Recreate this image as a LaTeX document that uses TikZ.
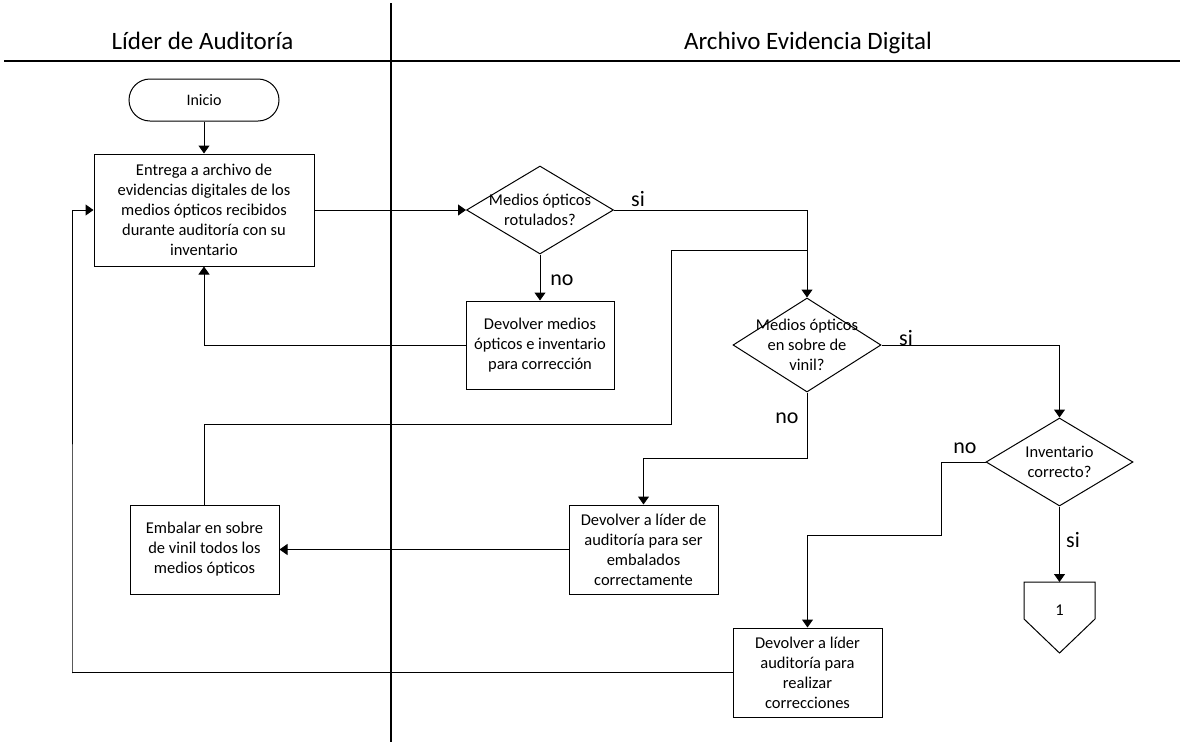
\documentclass[tikz,border=0pt]{standalone}
\usepackage{fontspec}
\setmainfont{Carlito}
\usetikzlibrary{shapes.geometric,arrows.meta}

\begin{document}
\begin{tikzpicture}[x=1pt,y=-1pt,
  lane/.style={line width=1.2pt},
  flow/.style={line width=1pt},
  arr/.style={flow,-{Triangle[width=11pt,length=8pt]}},
  proc/.style={draw,line width=1pt,rectangle,inner sep=0pt,align=center,
    font=\fontsize{16.5}{20}\selectfont},
  dec/.style={draw,line width=1pt,shape=diamond,inner sep=0pt},
  dtext/.style={align=center,inner sep=0pt,font=\fontsize{16.5}{20}\selectfont},
  term/.style={draw,line width=1pt,rectangle,rounded corners=21pt,inner sep=0pt,
    minimum width=150pt,minimum height=42pt,font=\fontsize{16}{19}\selectfont},
  head/.style={anchor=base,inner sep=0pt,font=\fontsize{25}{30}\selectfont},
  lbl/.style={inner sep=0pt,font=\fontsize{22}{26}\selectfont}
]
\useasboundingbox (0,0) rectangle (1180,742);

% swimlane frame
\coordinate (laneTop) at (391,3);
\coordinate (laneBot) at (391,742);
\coordinate (headL) at (4,61);
\coordinate (headR) at (1180,61);
\draw[lane] (laneTop) -- (laneBot);
\draw[lane] (headL) -- (headR);
\node[head] (h1) at (202.5,49) {Líder de Auditoría};
\node[head] (h2) at (808,49) {Archivo Evidencia Digital};

% process steps
\node[term] (start) at (204,100) {Inicio};
\node[proc,minimum width=220pt,minimum height=112pt] (entrega) at (204,210)
  {Entrega a archivo de\\evidencias digitales de los\\medios ópticos recibidos\\durante auditoría con su\\inventario};
\node[dec,minimum width=147pt,minimum height=88pt] (d1) at (540,210) {};
\node[dtext] (d1t) at (d1) {Medios ópticos\\rotulados?};
\node[proc,minimum width=148pt,minimum height=88pt] (devmed) at (540,345)
  {Devolver medios\\ópticos e inventario\\para corrección};
\node[dec,minimum width=148pt,minimum height=94pt] (d2) at (807,345) {};
\node[dtext] (d2t) at (d2) {Medios ópticos\\en sobre de\\vinil?};
\node[proc,minimum width=149pt,minimum height=89pt] (embalar) at (204.5,549.5)
  {Embalar en sobre\\de vinil todos los\\medios ópticos};
\node[proc,minimum width=149pt,minimum height=89pt] (devemb) at (643.5,549.5)
  {Devolver a líder de\\auditoría para ser\\embalados\\correctamente};
\node[dec,minimum width=147pt,minimum height=88pt] (d3) at (1059.5,462) {};
\node[dtext] (d3t) at (d3) {Inventario\\correcto?};
\node[proc,minimum width=149pt,minimum height=89pt] (devcor) at (807.5,672.5)
  {Devolver a líder\\auditoría para\\realizar\\correcciones};

% off-page connector
\draw[flow] (1024,582) -- (1095,582) -- (1095,619) -- (1059.5,653) -- (1024,619) -- cycle;
\node[dtext] (c1) at (1059.5,610) {1};
\coordinate (c1top) at (1059.5,582);

% bend points
\coordinate (j1) at (671,424);
\coordinate (j2) at (807,250);
\coordinate (j3) at (807,458);
\coordinate (j4) at (941,535);
\coordinate (j5) at (72,673);

% connectors
\draw[arr] (start) -- (entrega);
\draw[arr] (entrega.east) -- (d1.west);
\draw[arr] (d1.east) -| (d2.north);
\draw[arr] (d1.south) -- (devmed.north);
\draw[arr] (devmed.west) -| (entrega.south);
\draw[flow] (embalar.north) |- (j1) |- (j2);
\draw[arr] (d2.east) -| (d3.north);
\draw[arr] (d2.south) -- (j3) -| (devemb.north);
\draw[arr] (devemb.west) -- (embalar.east);
\draw[arr] (d3.west) -| (j4) -| (devcor.north);
\draw[arr] (d3.south) -- (c1top);
\draw[arr] (devcor.west) -| (j5) |- (entrega.west);

% branch labels
\node[lbl] (l1) at (638,199) {si};
\node[lbl] (l2) at (562,280) {no};
\node[lbl] (l3) at (906,338) {si};
\node[lbl] (l4) at (787,418) {no};
\node[lbl] (l5) at (965,448) {no};
\node[lbl] (l6) at (1073,540) {si};
\end{tikzpicture}
\end{document}
